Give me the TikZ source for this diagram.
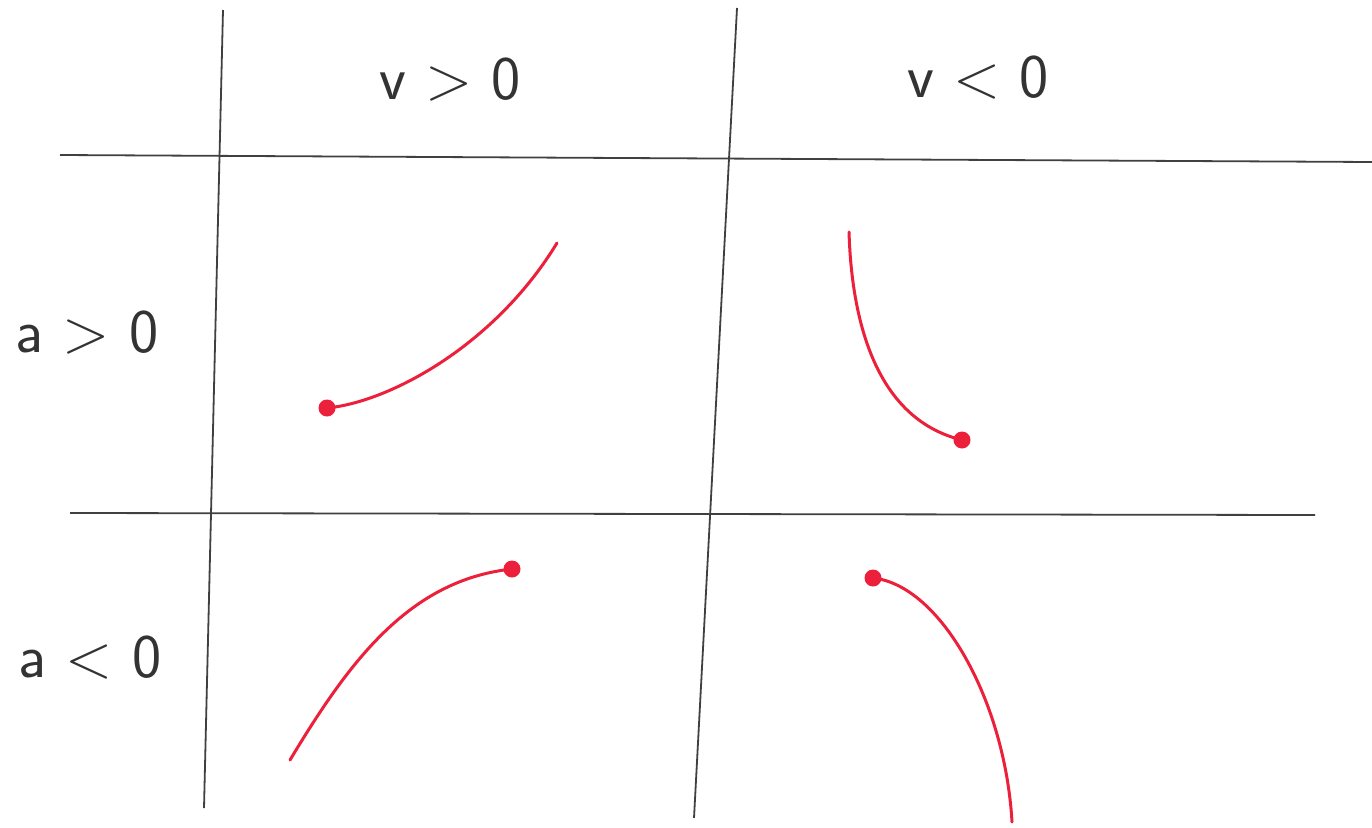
\documentclass[tikz,border=0pt]{standalone}
\usepackage{tikz}
\definecolor{pen}{RGB}{236,32,58}
\begin{document}
\begin{tikzpicture}[x=1pt,y=-1pt,
  grid/.style={draw=black!75, line width=1.8pt},
  curve/.style={draw=pen, line width=3pt, line cap=round},
  dot/.style={fill=pen},
  lbl/.style={font=\fontsize{62}{70}\selectfont\sffamily, text=black!80}]
\useasboundingbox[fill=white] (0,0) rectangle (1372,827);
% grid
\coordinate (v1t) at (223,10); \coordinate (v1b) at (204,808);
\coordinate (v2t) at (737,8); \coordinate (v2b) at (694,818);
\coordinate (h1l) at (60,155); \coordinate (h1r) at (1372,162);
\coordinate (h2l) at (70,513); \coordinate (h2r) at (1315,515);
\draw[grid] (v1t) -- (v1b);
\draw[grid] (v2t) -- (v2b);
\draw[grid] (h1l) -- (h1r);
\draw[grid] (h2l) -- (h2r);
% labels
\node[lbl] (vp) at (450,80) {v > 0};
\node[lbl] (vn) at (978,78) {v < 0};
\node[lbl] (ap) at (87,333) {a > 0};
\node[lbl] (an) at (90,658) {a < 0};
% curves
\coordinate (d1) at (327,408); \coordinate (e1) at (557,243);
\draw[curve] (d1) .. controls (390,402) and (495,345) .. (e1);
\fill[dot] (d1) circle (8.5);
\coordinate (e2) at (849,232); \coordinate (d2) at (962,440);
\draw[curve] (e2) .. controls (852,330) and (880,420) .. (d2);
\fill[dot] (d2) circle (8.5);
\coordinate (e3) at (290,760); \coordinate (d3) at (512,569);
\draw[curve] (e3) .. controls (350,660) and (410,580) .. (d3);
\fill[dot] (d3) circle (8.5);
\coordinate (d4) at (873,578); \coordinate (e4) at (1012,822);
\draw[curve] (d4) .. controls (940,585) and (1005,700) .. (e4);
\fill[dot] (d4) circle (8.5);
\end{tikzpicture}
\end{document}
